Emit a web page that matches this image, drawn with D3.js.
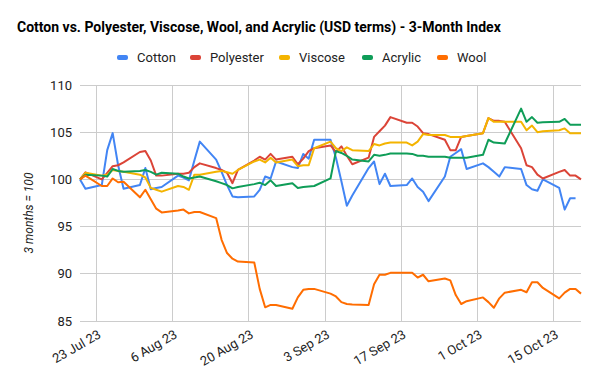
<!DOCTYPE html>
<html><head><meta charset="utf-8">
<script src="https://cdn.jsdelivr.net/npm/d3@7"></script>
<style>
body{margin:0;background:#fff;}
text{font-family:Roboto,"Noto Sans",sans-serif;}
</style></head>
<body><svg id="c" width="600" height="381"></svg>
<script>
const dates = ["2023-07-20","2023-07-21","2023-07-24","2023-07-25","2023-07-26","2023-07-27","2023-07-28",
"2023-07-31","2023-08-01","2023-08-02","2023-08-03","2023-08-04",
"2023-08-07","2023-08-08","2023-08-09","2023-08-10","2023-08-11",
"2023-08-14","2023-08-15","2023-08-16","2023-08-17","2023-08-18",
"2023-08-21","2023-08-22","2023-08-23","2023-08-24","2023-08-25",
"2023-08-28","2023-08-29","2023-08-30","2023-08-31","2023-09-01",
"2023-09-04","2023-09-05","2023-09-06","2023-09-07","2023-09-08",
"2023-09-11","2023-09-12","2023-09-13","2023-09-14","2023-09-15",
"2023-09-18","2023-09-19","2023-09-20","2023-09-21","2023-09-22",
"2023-09-25","2023-09-26","2023-09-27","2023-09-28","2023-09-29",
"2023-10-02","2023-10-03","2023-10-04","2023-10-05","2023-10-06",
"2023-10-09","2023-10-10","2023-10-11","2023-10-12","2023-10-13",
"2023-10-16","2023-10-17","2023-10-18","2023-10-19","2023-10-20"];

const cotton = [100,99.0,99.4,103.1,104.9,101.5,99.0,
99.4,101.2,98.95,99.1,99.2,
100.4,100.2,99.9,102.0,104.0,
102.1,100.8,99.4,98.2,98.1,
98.2,98.9,100.3,100.1,101.9,
101.3,101.2,102.7,102.2,104.2,
104.2,102.3,99.8,97.2,98.3,
101.2,101.9,99.5,100.6,99.3,
99.4,100.1,99.2,98.7,97.7,
100.3,102.4,102.8,103.2,101.1,
101.7,101.3,100.8,100.3,101.3,
101.1,99.4,98.95,98.8,100.0,
99.1,96.8,98.0,98.0,null];

const polyester = [100,100.75,100.0,100.7,101.4,101.5,101.8,
102.9,103.0,102.0,100.4,100.4,
100.6,100.6,100.7,101.3,101.7,
101.2,101.0,100.7,99.6,101.0,
102.0,102.4,102.1,102.7,102.1,
102.4,101.6,102.2,103.0,103.3,
103.6,102.9,103.5,102.5,101.6,
102.3,104.5,105.1,105.7,106.6,
106.0,106.0,105.6,104.9,104.8,
104.2,103.1,103.1,104.5,104.6,
104.9,106.5,106.2,106.2,106.1,
103.3,101.5,101.3,100.5,100.1,
100.8,101.0,100.4,100.4,100.0];

const viscose = [100,100.7,100.4,100.5,101.0,100.9,100.8,
100.5,100.2,99.1,98.9,98.7,
99.3,99.2,98.9,100.5,100.5,
100.8,100.9,100.75,100.6,101.0,
101.9,102.1,101.8,102.3,101.8,
102.1,101.4,101.5,101.5,103.3,
104.0,103.3,103.0,103.4,103.1,
103.0,103.75,103.6,103.8,103.9,
103.9,103.6,104.0,104.8,104.7,
104.7,104.5,104.5,104.5,104.6,
104.9,106.5,106.1,106.1,106.1,
106.1,105.2,105.7,105.0,105.1,
105.2,105.4,104.9,104.9,104.9];

const acrylic = [100,100.5,100.4,100.3,101.1,100.9,100.8,
100.9,101.0,100.8,100.5,100.7,
100.6,100.3,100.1,100.2,100.3,
99.8,99.6,99.4,99.05,99.2,
99.5,99.65,99.4,99.9,99.3,
99.6,99.1,99.2,99.25,99.3,
100.1,103.0,102.8,102.5,102.1,
101.9,102.6,102.5,102.6,102.75,
102.75,102.7,102.5,102.5,102.4,
102.4,102.3,102.3,102.3,102.3,
102.6,104.2,103.9,103.85,103.8,
107.5,106.1,106.6,106.0,106.05,
106.1,106.4,105.8,105.8,105.8];

const wool = [100,100.4,99.3,99.3,100.1,99.7,99.75,
98.1,98.9,97.9,96.9,96.5,
96.7,96.8,96.4,96.55,96.55,
95.9,93.6,92.2,91.6,91.3,
91.2,88.4,86.45,86.7,86.7,
86.3,87.5,88.3,88.4,88.4,
87.9,87.6,87.0,86.8,86.75,
86.7,88.9,89.9,89.9,90.1,
90.1,90.1,89.6,89.9,89.2,
89.5,89.3,87.75,86.8,87.1,
87.5,87.0,86.4,87.4,88.0,
88.3,88.05,89.1,89.1,88.5,
87.4,88.0,88.4,88.4,87.9];

const seriesNames = ["Cotton","Polyester","Viscose","Acrylic","Wool"];
const seriesColors = ["#4285F4","#DB4437","#F4B400","#0F9D58","#FF6D01"];
const seriesValues = [cotton, polyester, viscose, acrylic, wool];
const yTicks = [85,90,95,100,105,110];
const xTickDates = ["2023-07-23","2023-08-06","2023-08-20","2023-09-03","2023-09-17","2023-10-01","2023-10-15"];
const xTickLabels = ["23 Jul 23","6 Aug 23","20 Aug 23","3 Sep 23","17 Sep 23","1 Oct 23","15 Oct 23"];

const parse = d3.utcParse("%Y-%m-%d");
const svg = d3.select("#c");
const L=80, R=581, T=85, B=321;
const x = d3.scaleUtc().domain([parse("2023-07-20"), parse("2023-10-20")]).range([L,R]);
const y = d3.scaleLinear().domain([85,110]).range([B,T]);

// grid
const g = svg.append("g");
g.selectAll(".hg").data(yTicks).join("line")
  .attr("x1",L).attr("x2",R).attr("y1",d=>y(d)).attr("y2",d=>y(d))
  .attr("stroke","#cccccc").attr("stroke-width",1).attr("shape-rendering","crispEdges");
g.selectAll(".vg").data(xTickDates).join("line")
  .attr("x1",d=>x(parse(d))).attr("x2",d=>x(parse(d))).attr("y1",T).attr("y2",B)
  .attr("stroke","#cccccc").attr("stroke-width",1).attr("shape-rendering","crispEdges");

// y axis labels
const yAxis = d3.axisLeft(y).tickValues(yTicks).tickSize(0).tickPadding(8);
const ya = svg.append("g").attr("transform",`translate(${L},0)`).call(yAxis);
ya.select(".domain").remove();
ya.selectAll("text").attr("font-size",13).attr("fill","#222").attr("font-family","Roboto");

// x axis labels
const xAxis = d3.axisBottom(x).tickValues(xTickDates.map(parse))
  .tickFormat((d,i)=>xTickLabels[i]).tickSize(0);
const xa = svg.append("g").attr("transform",`translate(0,${B})`).call(xAxis);
xa.select(".domain").remove();
xa.selectAll("text").attr("font-size",13).attr("fill","#222").attr("font-family","Roboto")
  .attr("text-anchor","end").attr("dy",0).attr("y",0)
  .attr("transform","translate(5,16) rotate(-30)");

// lines
const line = d3.line().defined(d=>d.v!=null).x(d=>x(d.t)).y(d=>y(d.v));
seriesValues.forEach((vals,i)=>{
  const data = dates.map((d,j)=>({t:parse(d), v:vals[j]}));
  svg.append("path").datum(data).attr("d",line)
    .attr("fill","none").attr("stroke",seriesColors[i]).attr("stroke-width",2)
    .attr("stroke-linejoin","round");
});

// title
svg.append("text").attr("x",17).attr("y",32).text("Cotton vs. Polyester, Viscose, Wool, and Acrylic (USD terms) - 3-Month Index")
  .attr("font-size",14).attr("font-weight","bold").attr("fill","#000");

// legend
const legX = [117,190,279,362,437];
const leg = svg.append("g");
seriesNames.forEach((n,i)=>{
  leg.append("rect").attr("x",legX[i]).attr("y",55).attr("width",11).attr("height",5).attr("rx",2)
    .attr("fill",seriesColors[i]);
  leg.append("text").attr("x",legX[i]+20).attr("y",62).text(n).attr("font-size",13).attr("fill","#222");
});

// y axis title
svg.append("text").attr("transform","translate(33,213) rotate(-90)").attr("text-anchor","middle")
  .attr("font-size",12).attr("font-style","italic").attr("fill","#222").text("3 months = 100");
</script></body></html>
